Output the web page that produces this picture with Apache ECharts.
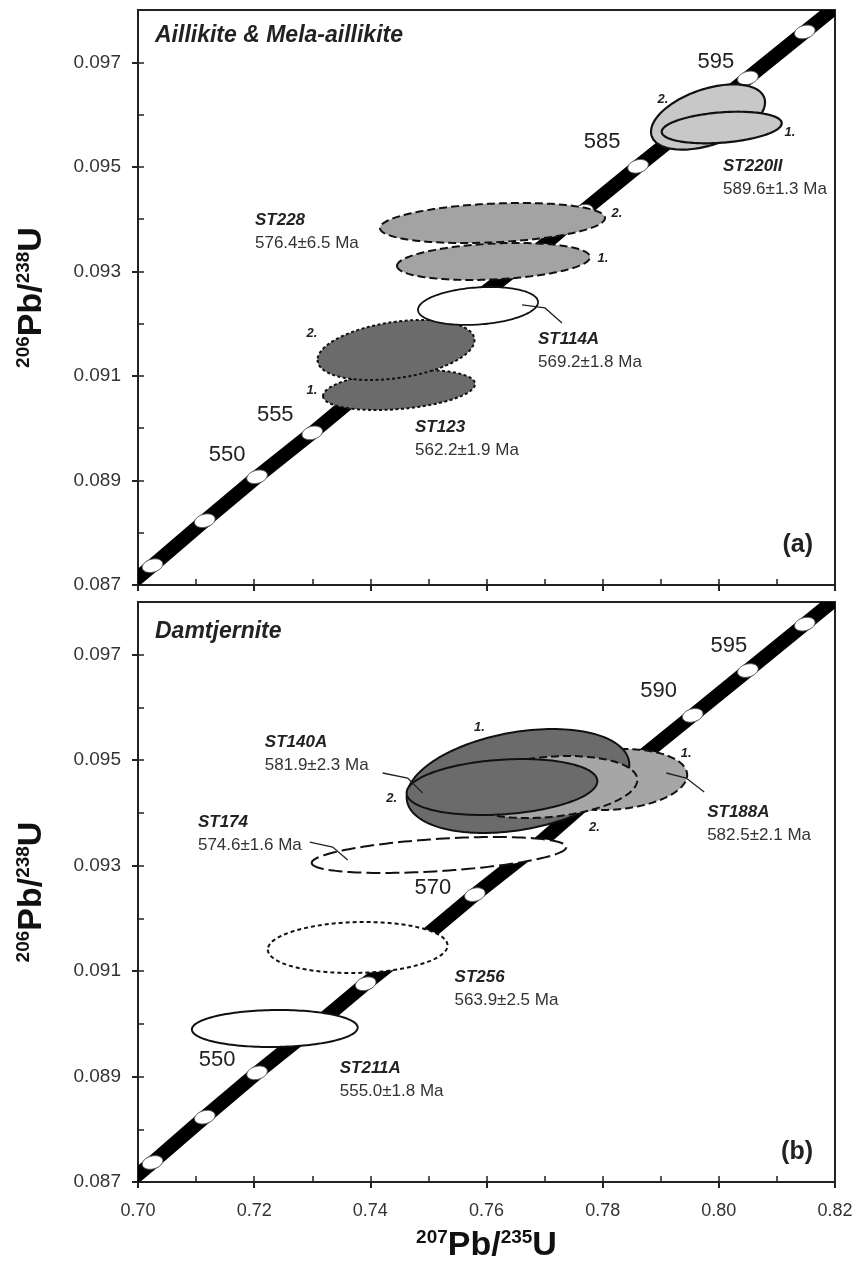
<!DOCTYPE html>
<html><head><meta charset="utf-8">
<script src="https://cdn.jsdelivr.net/npm/echarts@6/dist/echarts.min.js"></script>
<style>html,body{margin:0;padding:0;background:#fff}#c{width:856px;height:1269px}</style>
</head><body><div id="c"></div>
<script>
// ---------------- data ----------------
const xTickValues = [0.70, 0.72, 0.74, 0.76, 0.78, 0.80, 0.82];
const xInnerTicks = [0.70, 0.71, 0.72, 0.73, 0.74, 0.75, 0.76, 0.77, 0.78, 0.79, 0.80, 0.81, 0.82];
const yTickValues = [0.087, 0.089, 0.091, 0.093, 0.095, 0.097];
const yInnerTicks = [0.087, 0.088, 0.089, 0.090, 0.091, 0.092, 0.093, 0.094, 0.095, 0.096, 0.097];
const yMax = 0.098;

// concordia age marks (Ma)
const concordiaAge = [535, 540, 545, 550, 555, 560, 565, 570, 575, 580, 585, 590, 595, 600, 605];
const concordiaX = [0.6934, 0.7025, 0.7115, 0.7205, 0.7300, 0.7392, 0.7488, 0.7580, 0.7677, 0.7766, 0.7861, 0.7955, 0.8050, 0.8148, 0.8244];
const concordiaY = [0.08653, 0.08737, 0.08823, 0.08907, 0.08991, 0.09076, 0.09160, 0.09245, 0.09329, 0.09415, 0.09501, 0.09585, 0.09670, 0.09758, 0.09844];
const ageLabelsA = [550, 555, 585, 595];
const ageLabelsB = [550, 570, 590, 595];

// error ellipses: centre, half-extent in x and y, correlation
const ellipseSample = ['ST123', 'ST123', 'ST114A', 'ST228', 'ST228', 'ST220II', 'ST220II',
                       'ST211A', 'ST256', 'ST174', 'ST188A', 'ST140A', 'ST188A', 'ST140A'];
const ellipsePanel = [0, 0, 0, 0, 0, 0, 0, 1, 1, 1, 1, 1, 1, 1];
const ellipseX = [0.74494, 0.74442, 0.75854, 0.76121, 0.76103, 0.79814, 0.80050,
                  0.72355, 0.73782, 0.75183, 0.78183, 0.76542, 0.77049, 0.76267];
const ellipseY = [0.090731, 0.091496, 0.092338, 0.093189, 0.093925, 0.095953, 0.095752,
                  0.089911, 0.091447, 0.093202, 0.094633, 0.094605, 0.094491, 0.094491];
const ellipseSX = [0.013085, 0.013515, 0.01033, 0.016614, 0.019369, 0.009814, 0.010330,
                   0.014269, 0.015473, 0.021920, 0.012722, 0.019169, 0.015473, 0.016418];
const ellipseSY = [0.000383, 0.000574, 0.000363, 0.000354, 0.000383, 0.000624, 0.000302,
                   0.000351, 0.000484, 0.000341, 0.000578, 0.000986, 0.000588, 0.000531];
const ellipseRho = [0.30, 0.33, 0.20, 0.24, 0.25, 0.45, 0.27,
                    0.05, 0.08, 0.44, 0.15, 0.31, 0.23, 0.21];

// sample labels
const sampleName = ['ST228', 'ST220II', 'ST114A', 'ST123', 'ST140A', 'ST174', 'ST188A', 'ST256', 'ST211A'];
const sampleAge = ['576.4±6.5 Ma', '589.6±1.3 Ma', '569.2±1.8 Ma', '562.2±1.9 Ma',
                   '581.9±2.3 Ma', '574.6±1.6 Ma', '582.5±2.1 Ma', '563.9±2.5 Ma', '555.0±1.8 Ma'];
const samplePanel = [0, 0, 0, 0, 1, 1, 1, 1, 1];
const sampleLabelX = [0.72014, 0.80072, 0.76887, 0.74769, 0.72183, 0.71032, 0.79799, 0.75450, 0.73473];
const sampleLabelY = [0.093983, 0.095016, 0.091706, 0.090023, 0.095345, 0.093827, 0.094017, 0.090888, 0.089162];

// leader lines
const leaderPanel = [0, 1, 1, 1];
const leaderX = [[0.76611, 0.77007, 0.77300], [0.74212, 0.74642, 0.74900], [0.72957, 0.73352, 0.73610], [0.79094, 0.79438, 0.79748]];
const leaderY = [[0.092357, 0.092300, 0.092012], [0.094757, 0.094662, 0.094377], [0.093448, 0.093353, 0.093107], [0.094757, 0.094662, 0.094396]];

// analysis numbers
const analysisText = ['2.', '1.', '2.', '1.', '2.', '1.', '2.', '1.', '1.', '2.'];
const analysisPanel = [0, 0, 0, 0, 0, 0, 1, 1, 1, 1];
const analysisX = [0.79039, 0.81225, 0.78247, 0.78006, 0.72996, 0.72996, 0.74367, 0.75880, 0.79438, 0.77857];
const analysisY = [0.096298, 0.095666, 0.094117, 0.093256, 0.091821, 0.090731, 0.094283, 0.095629, 0.095136, 0.093733];

// ---------------- styles ----------------
const FONT = '"Liberation Sans", Arial, Helvetica, sans-serif';
const ellipseStyle = {
  ST123: { fill: '#6b6b6b', dash: [3, 2.5], width: 2 },
  ST114A: { fill: '#ffffff', dash: null, width: 1.8 },
  ST228: { fill: '#a3a3a3', dash: [8, 4], width: 2 },
  ST220II: { fill: '#c8c8c8', dash: null, width: 2.2 },
  ST211A: { fill: '#ffffff', dash: null, width: 2 },
  ST256: { fill: '#ffffff', dash: [4, 3], width: 2 },
  ST174: { fill: '#ffffff', dash: [14, 5], width: 2 },
  ST188A: { fill: '#a6a6a6', dash: [8, 4], width: 2 },
  ST140A: { fill: '#6b6b6b', dash: null, width: 2 }
};
const ageLabelOffset = [
  { 550: [-30, -22], 555: [-37, -18], 585: [-36, -24], 595: [-32, -16] },
  { 550: [-40, -13], 570: [-42, -7], 590: [-34, -24], 595: [-19, -25] }
];

// ---------------- chart ----------------
const chart = echarts.init(document.getElementById('c'), null, { renderer: 'canvas' });

const titleRich = {
  s: { fontSize: 19, fontWeight: 'bold', fontFamily: FONT, color: '#111', verticalAlign: 'top', lineHeight: 36 },
  m: { fontSize: 34, fontWeight: 'bold', fontFamily: FONT, color: '#111', lineHeight: 36 }
};

function xAxesFor(g, showLabels) {
  const base = {
    gridIndex: g, type: 'value', min: xTickValues[0], max: xTickValues[xTickValues.length - 1],
    interval: xTickValues[1] - xTickValues[0], splitLine: { show: false }
  };
  const main = Object.assign({}, base, {
    position: 'bottom',
    axisLine: { show: true, onZero: false, lineStyle: { color: '#222', width: 2 } },
    axisTick: { show: true, inside: false, length: 6, customValues: xTickValues, lineStyle: { color: '#222', width: 2 } },
    axisLabel: { show: showLabels, customValues: xTickValues, margin: 20, fontSize: 18, fontFamily: FONT, color: '#333',
      formatter: v => v.toFixed(2) }
  });
  if (showLabels) {
    main.name = '{s|207}{m|Pb/}{s|235}{m|U}';
    main.nameLocation = 'middle';
    main.nameGap = 46;
    main.nameTextStyle = { rich: titleRich };
  }
  const inner = Object.assign({}, base, {
    position: 'bottom',
    axisLine: { show: false },
    axisTick: { show: true, inside: true, length: 6, customValues: xInnerTicks, lineStyle: { color: '#222', width: 1.5 } },
    axisLabel: { show: false }
  });
  return [main, inner];
}
function yAxesFor(g) {
  const base = {
    gridIndex: g, type: 'value', min: yTickValues[0], max: yMax,
    interval: yTickValues[1] - yTickValues[0], splitLine: { show: false }
  };
  const main = Object.assign({}, base, {
    position: 'left',
    axisLine: { show: true, onZero: false, lineStyle: { color: '#222', width: 2 } },
    axisTick: { show: true, inside: false, length: 6, customValues: yTickValues, lineStyle: { color: '#222', width: 2 } },
    axisLabel: { show: true, customValues: yTickValues, margin: 17, fontSize: 19, fontFamily: FONT, color: '#333',
      formatter: v => v.toFixed(3) },
    name: '{s|206}{m|Pb/}{s|238}{m|U}', nameLocation: 'middle', nameGap: 88, nameRotate: 90,
    nameTextStyle: { rich: titleRich }
  });
  const inner = Object.assign({}, base, {
    position: 'left',
    axisLine: { show: false },
    axisTick: { show: true, inside: true, length: 6, customValues: yInnerTicks, lineStyle: { color: '#222', width: 1.5 } },
    axisLabel: { show: false }
  });
  return [main, inner];
}

function markerData() {
  return concordiaX.map((x, i) => [x, concordiaY[i], concordiaAge[i]])
    .filter(d => d[0] > xTickValues[0] && d[0] < xTickValues[xTickValues.length - 1] && d[1] > yTickValues[0] && d[1] < yMax);
}

function renderBand(params, api) {
  const cs = params.coordSys;
  const pts = concordiaX.map((x, i) => api.coord([x, concordiaY[i]]));
  return { type: 'polyline', shape: { points: pts }, style: { stroke: '#000', lineWidth: 14, fill: null, lineCap: 'butt' },
    clipPath: { type: 'rect', shape: { x: cs.x, y: cs.y, width: cs.width, height: cs.height } } };
}

function renderMarker(params, api) {
  const p = api.coord([api.value(0), api.value(1)]);
  const rx = 10.5, ry = 6.5, a = 15 * Math.PI / 180;
  const pts = [];
  for (let k = 0; k < 48; k++) {
    const t = k / 48 * Math.PI * 2;
    const ex = rx * Math.cos(t), ey = ry * Math.sin(t);
    pts.push([p[0] + ex * Math.cos(a) - ey * Math.sin(a), p[1] - (ex * Math.sin(a) + ey * Math.cos(a))]);
  }
  return { type: 'polygon', shape: { points: pts }, style: { fill: '#fff', stroke: '#555', lineWidth: 1 } };
}

function renderEllipse(params, api) {
  const i = api.value(2);
  const st = ellipseStyle[ellipseSample[i]];
  const r = ellipseRho[i], q = Math.sqrt(1 - r * r);
  const pts = [];
  for (let k = 0; k < 160; k++) {
    const t = Math.PI + k / 160 * Math.PI * 2;
    const x = ellipseX[i] + ellipseSX[i] * Math.cos(t);
    const y = ellipseY[i] + ellipseSY[i] * (r * Math.cos(t) + q * Math.sin(t));
    pts.push(api.coord([x, y]));
  }
  return { type: 'polygon', shape: { points: pts },
    style: { fill: st.fill, stroke: '#111', lineWidth: st.width, lineDash: st.dash || null } };
}

function renderSampleLabel(params, api) {
  const i = api.value(2);
  const p = api.coord([api.value(0), api.value(1)]);
  return { type: 'group', children: [
    { type: 'text', x: p[0], y: p[1], style: { text: sampleName[i], fontSize: 17, fontWeight: 'bold', fontStyle: 'italic',
      fontFamily: FONT, fill: '#222', align: 'left', verticalAlign: 'middle' } },
    { type: 'text', x: p[0], y: p[1] + 23, style: { text: sampleAge[i], fontSize: 17, fontFamily: FONT,
      fill: '#333', align: 'left', verticalAlign: 'middle' } }
  ] };
}

function renderLeader(params, api) {
  const i = api.value(2);
  const pts = leaderX[i].map((x, k) => api.coord([x, leaderY[i][k]]));
  return { type: 'polyline', shape: { points: pts }, style: { stroke: '#222', lineWidth: 1.3, fill: null } };
}

function renderAnalysis(params, api) {
  const i = api.value(2);
  const p = api.coord([api.value(0), api.value(1)]);
  return { type: 'text', x: p[0], y: p[1], style: { text: analysisText[i], fontSize: 13, fontWeight: 'bold', fontStyle: 'italic',
    fontFamily: FONT, fill: '#222', align: 'center', verticalAlign: 'middle' } };
}

function makeAgeLabelRenderer(panel) {
  return function (params, api) {
    const age = api.value(2);
    const p = api.coord([api.value(0), api.value(1)]);
    const off = ageLabelOffset[panel][age];
    return { type: 'text', x: p[0] + off[0], y: p[1] + off[1], style: { text: String(age), fontSize: 22, fontFamily: FONT,
      fill: '#222', align: 'center', verticalAlign: 'middle' } };
  };
}

const series = [];
[0, 1].forEach(panel => {
  const xi = panel * 2, yi = panel * 2;
  series.push({
    type: 'custom', xAxisIndex: xi, yAxisIndex: yi, z: 1, silent: true,
    data: [[concordiaX[0], concordiaY[0]]], renderItem: renderBand
  });
  series.push({
    type: 'custom', xAxisIndex: xi, yAxisIndex: yi, data: markerData(), renderItem: renderMarker, z: 2, silent: true
  });
  const idx = ellipseX.map((x, i) => i).filter(i => ellipsePanel[i] === panel);
  series.push({
    type: 'custom', xAxisIndex: xi, yAxisIndex: yi, z: 3, silent: true,
    data: idx.map(i => [ellipseX[i], ellipseY[i], i]), renderItem: renderEllipse
  });
  const lidx = leaderX.map((x, i) => i).filter(i => leaderPanel[i] === panel);
  series.push({
    type: 'custom', xAxisIndex: xi, yAxisIndex: yi, z: 4, silent: true,
    data: lidx.map(i => [leaderX[i][0], leaderY[i][0], i]), renderItem: renderLeader
  });
  const sidx = sampleName.map((x, i) => i).filter(i => samplePanel[i] === panel);
  series.push({
    type: 'custom', xAxisIndex: xi, yAxisIndex: yi, z: 5, silent: true,
    data: sidx.map(i => [sampleLabelX[i], sampleLabelY[i], i]), renderItem: renderSampleLabel
  });
  const aidx = analysisText.map((x, i) => i).filter(i => analysisPanel[i] === panel);
  series.push({
    type: 'custom', xAxisIndex: xi, yAxisIndex: yi, z: 5, silent: true,
    data: aidx.map(i => [analysisX[i], analysisY[i], i]), renderItem: renderAnalysis
  });
  const ages = panel === 0 ? ageLabelsA : ageLabelsB;
  series.push({
    type: 'custom', xAxisIndex: xi, yAxisIndex: yi, z: 5, silent: true,
    data: ages.map(a => { const k = concordiaAge.indexOf(a); return [concordiaX[k], concordiaY[k], a]; }),
    renderItem: makeAgeLabelRenderer(panel)
  });
});

chart.setOption({
  animation: false,
  backgroundColor: '#fff',
  grid: [
    { left: 138, top: 10, width: 697, height: 575, show: true, borderColor: '#222', borderWidth: 2, containLabel: false },
    { left: 138, top: 602, width: 697, height: 580, show: true, borderColor: '#222', borderWidth: 2, containLabel: false }
  ],
  xAxis: [...xAxesFor(0, false), ...xAxesFor(1, true)],
  yAxis: [...yAxesFor(0), ...yAxesFor(1)],
  graphic: [
    { type: 'text', left: 155, top: 24, style: { text: 'Aillikite & Mela-aillikite', fontSize: 23, fontWeight: 'bold',
      fontStyle: 'italic', fontFamily: FONT, fill: '#222' } },
    { type: 'text', right: 43, top: 533, style: { text: '(a)', fontSize: 25, fontWeight: 'bold', fontFamily: FONT, fill: '#222' } },
    { type: 'text', left: 155, top: 620, style: { text: 'Damtjernite', fontSize: 23, fontWeight: 'bold',
      fontStyle: 'italic', fontFamily: FONT, fill: '#222' } },
    { type: 'text', right: 43, top: 1140, style: { text: '(b)', fontSize: 25, fontWeight: 'bold', fontFamily: FONT, fill: '#222' } }
  ],
  series: series
});
</script></body></html>
